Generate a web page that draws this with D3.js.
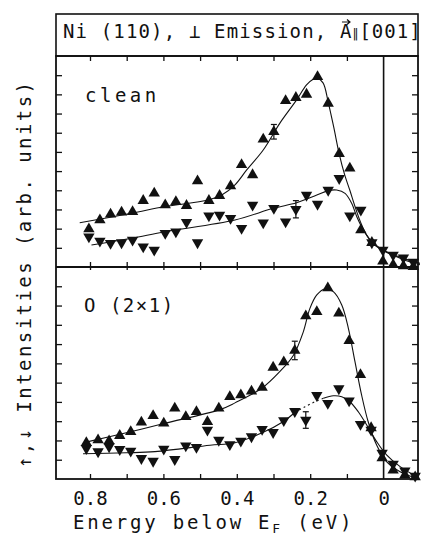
<!DOCTYPE html>
<html>
<head>
<meta charset="utf-8">
<script src="https://cdn.jsdelivr.net/npm/d3@7"></script>
<style>
  body { margin: 0; background: #fff; }
  text { font-family: "DejaVu Sans Mono", monospace; fill: #111; }
</style>
</head>
<body>
<div id="chart"></div>
<script>
// energies of the measured points (eV below E_F)
var energyTop = [0.803,0.773,0.744,0.714,0.684,0.655,0.625,0.595,0.566,0.537,0.507,0.476,0.447,0.417,0.387,0.357,0.328,0.299,0.267,0.239,0.210,0.180,0.151,0.121,0.092,0.062,0.032,0.002,-0.026,-0.054,-0.081];
var cleanUp   = [1.98,2.45,2.75,2.85,2.88,3.46,3.84,3.23,3.40,3.20,4.48,3.46,3.72,4.22,5.33,4.80,6.66,7.05,8.67,8.83,9.00,9.92,8.53,5.91,5.15,1.93,1.27,0.30,0.12,0.05,0.02];
var cleanDown = [1.58,1.36,1.24,1.27,1.41,1.06,0.89,1.76,1.84,2.33,1.27,2.67,2.71,2.54,2.02,3.23,2.31,3.06,2.36,3.01,3.75,3.28,4.01,4.62,2.67,2.97,1.27,0.89,0.63,0.48,0.26];

var energyBot = [0.810,0.778,0.748,0.719,0.689,0.660,0.628,0.599,0.569,0.539,0.510,0.480,0.449,0.419,0.389,0.360,0.331,0.301,0.272,0.242,0.212,0.182,0.152,0.122,0.094,0.063,0.034,0.004,-0.026,-0.058,-0.086];
var oxUp   = [1.88,2.02,1.97,2.25,2.45,2.94,3.28,2.89,3.67,3.23,3.49,2.97,3.67,4.27,4.36,4.55,4.75,5.79,6.07,6.67,8.46,8.68,9.91,8.60,7.17,5.41,2.65,1.09,0.45,0.21,0.10];
var oxDown = [1.59,1.42,1.68,1.54,1.45,1.07,0.93,1.56,1.02,1.73,1.65,2.54,2.02,1.79,1.97,2.20,2.58,2.42,3.04,3.51,3.06,4.34,3.93,4.69,4.06,2.84,2.54,1.35,0.78,0.43,0.16];

// error bars: [energy, value, half height]
var cleanErr = [[0.299,7.05,0.38],[0.239,3.01,0.45]];
var oxErr    = [[0.242,6.67,0.48],[0.212,3.06,0.43]];

// fitted curves [energy, intensity]
var cleanUpFit = [[0.828,2.31],[0.687,2.80],[0.596,3.15],[0.478,3.49],[0.441,3.75],[0.405,4.28],[0.373,5.06],[0.328,6.10],[0.283,7.49],[0.237,8.71],[0.210,9.49],[0.192,9.79],[0.181,9.84],[0.165,9.6],[0.151,8.6],[0.136,7.3],[0.121,5.9],[0.106,4.8],[0.092,4.0],[0.077,3.1],[0.062,2.3],[0.046,1.65],[0.028,1.2],[0.0,0.85],[-0.03,0.58],[-0.06,0.34],[-0.099,0.12]];
var cleanDownFit = [[0.796,1.15],[0.687,1.50],[0.596,1.84],[0.405,2.45],[0.301,3.06],[0.237,3.35],[0.182,3.75],[0.151,3.98],[0.128,4.01],[0.105,3.84],[0.087,3.32],[0.073,2.62],[0.055,1.93],[0.028,1.24],[-0.008,0.80],[-0.054,0.45],[-0.099,0.19]];
var oxUpFit = [[0.814,1.90],[0.701,2.40],[0.596,2.89],[0.446,3.60],[0.405,3.95],[0.331,4.72],[0.283,5.57],[0.246,6.41],[0.219,7.62],[0.201,8.84],[0.182,9.55],[0.160,9.86],[0.137,9.72],[0.114,9.03],[0.096,7.82],[0.078,6.09],[0.060,4.36],[0.042,2.97],[0.019,1.76],[-0.008,0.90],[-0.045,0.38],[-0.090,0.04]];
var oxDownFitA = [[0.819,1.31],[0.701,1.36],[0.623,1.42],[0.473,1.75],[0.405,1.88],[0.328,2.42],[0.274,2.97],[0.242,3.45]];
var oxDownFitDash = [[0.242,3.45],[0.214,3.75],[0.187,4.01],[0.164,4.19]];
var oxDownFitB = [[0.164,4.19],[0.137,4.32],[0.114,4.27],[0.092,4.01],[0.069,3.49],[0.046,2.80],[0.019,1.94],[-0.008,1.25],[-0.045,0.64],[-0.090,0.12]];

var minorTicks = [0.8,0.7,0.6,0.5,0.4,0.3,0.2,0.1];
var labelTicks = [0.8,0.6,0.4,0.2,0];
var yTicks = d3.range(1, 11);

var W = 422, H = 546;
var pLeft = 56, pRight = 418, pTop = 56, pMid = 267, pBottom = 479;

var svg = d3.select("#chart").append("svg")
    .attr("width", W)
    .attr("height", H);

svg.append("rect").attr("width", W).attr("height", H).attr("fill", "#fff");

var x = d3.scaleLinear().domain([0.8, 0]).range([90, 383.6]);
var yTop = d3.scaleLinear().domain([0, 11]).range([pMid, pTop]);
var yBot = d3.scaleLinear().domain([0, 11]).range([pBottom, pMid]);

// title box
svg.append("rect")
    .attr("x", pLeft).attr("y", 14)
    .attr("width", pRight - pLeft).attr("height", pTop - 14)
    .attr("fill", "none").attr("stroke", "#111").attr("stroke-width", 1.6);

var title = svg.append("text")
    .attr("x", 63).attr("y", 38)
    .attr("font-size", 19);
title.append("tspan").attr("letter-spacing", 1.15).text("Ni (110), \u22a5 Emission, ");
title.append("tspan").attr("id", "vecA").text("A");
title.append("tspan").attr("font-family", "DejaVu Sans").attr("font-size", 12).attr("dx", 1).text("\u2016");
title.append("tspan").attr("dx", 1).attr("letter-spacing", 1).text("[001]");

// little vector arrow above the A
var aBox = document.getElementById("vecA").getBBox();
var ax0 = aBox.x + 2, ax1 = aBox.x + aBox.width - 2, ay = 22;
svg.append("path")
    .attr("d", "M" + ax0 + "," + ay + "H" + ax1 + "M" + (ax1 - 3) + "," + (ay - 2.5) + "L" + ax1 + "," + ay + "L" + (ax1 - 3) + "," + (ay + 2.5))
    .attr("fill", "none").attr("stroke", "#111").attr("stroke-width", 1.2);

function tickAxis(axis, tr) {
  var g = svg.append("g").attr("transform", tr).call(axis);
  g.select(".domain").remove();
  g.selectAll("line").attr("stroke", "#111").attr("stroke-width", 1.3);
  g.selectAll("text").remove();
  return g;
}

// x ticks
tickAxis(d3.axisTop(x).tickValues(minorTicks).tickSize(-5), "translate(0," + pTop + ")");
tickAxis(d3.axisBottom(x).tickValues(minorTicks).tickSize(-5), "translate(0," + pMid + ")");
tickAxis(d3.axisTop(x).tickValues(minorTicks).tickSize(-3), "translate(0," + pMid + ")");
tickAxis(d3.axisBottom(x).tickValues(minorTicks).tickSize(-5), "translate(0," + pBottom + ")");

// y ticks, both panels, both sides
[yTop, yBot].forEach(function(y) {
  tickAxis(d3.axisLeft(y).tickValues(yTicks).tickSize(-6), "translate(" + pLeft + ",0)");
  tickAxis(d3.axisRight(y).tickValues(yTicks).tickSize(-6), "translate(" + pRight + ",0)");
});

// frame
svg.append("rect")
    .attr("x", pLeft).attr("y", pTop)
    .attr("width", pRight - pLeft).attr("height", pBottom - pTop)
    .attr("fill", "none").attr("stroke", "#111").attr("stroke-width", 1.8);
svg.append("line")
    .attr("x1", pLeft).attr("x2", pRight).attr("y1", pMid).attr("y2", pMid)
    .attr("stroke", "#111").attr("stroke-width", 1.8);
svg.append("line")
    .attr("x1", x(0)).attr("x2", x(0)).attr("y1", pTop).attr("y2", pBottom)
    .attr("stroke", "#111").attr("stroke-width", 1.6);

// x labels
var xl = svg.append("g")
    .attr("transform", "translate(0," + pBottom + ")")
    .call(d3.axisBottom(x).tickValues(labelTicks).tickSize(0).tickPadding(13)
      .tickFormat(function(d){ return d === 0 ? "0" : d3.format(".1f")(d); }));
xl.select(".domain").remove();
xl.selectAll("text")
    .attr("font-size", 19)
    .attr("font-family", "DejaVu Sans Mono")
    .attr("fill", "#111");

var xt = svg.append("text")
    .attr("x", 73).attr("y", 529)
    .attr("font-size", 19)
    .attr("letter-spacing", 2.8);
xt.append("tspan").text("Energy below E");
xt.append("tspan").attr("font-size", 13).attr("dy", 4).text("F");
xt.append("tspan").attr("dy", -4).text(" (eV)");

svg.append("text")
    .attr("transform", "translate(31," + 468 + ") rotate(-90)")
    .attr("font-size", 19)
    .attr("textLength", 386).attr("lengthAdjust", "spacing")
    .text("\u2191,\u2193 Intensities (arb. units)");

svg.append("text")
    .attr("x", 85).attr("y", 102)
    .attr("font-size", 19)
    .attr("letter-spacing", 3.5)
    .text("clean");
svg.append("text")
    .attr("x", 84).attr("y", 312)
    .attr("font-size", 19)
    .attr("letter-spacing", 1.5)
    .text("O (2\u00d71)");

// curves
function curve(pts, y, dash) {
  var line = d3.line()
      .x(function(d){ return x(d[0]); })
      .y(function(d){ return y(d[1]); })
      .curve(d3.curveCatmullRom.alpha(0.5));
  svg.append("path")
      .datum(pts)
      .attr("d", line)
      .attr("fill", "none")
      .attr("stroke", "#111")
      .attr("stroke-width", 1.1)
      .attr("stroke-dasharray", dash || null);
}
curve(cleanUpFit, yTop);
curve(cleanDownFit, yTop);
curve(oxUpFit, yBot);
curve(oxDownFitA, yBot);
curve(oxDownFitDash, yBot, "2,3");
curve(oxDownFitB, yBot);

// error bars
function errBars(list, y) {
  list.forEach(function(e) {
    var g = svg.append("g").attr("stroke", "#111").attr("stroke-width", 1.2);
    g.append("line").attr("x1", x(e[0])).attr("x2", x(e[0]))
      .attr("y1", y(e[1] - e[2])).attr("y2", y(e[1] + e[2]));
    [e[1] - e[2], e[1] + e[2]].forEach(function(v) {
      g.append("line").attr("x1", x(e[0]) - 3).attr("x2", x(e[0]) + 3)
        .attr("y1", y(v)).attr("y2", y(v));
    });
  });
}
errBars(cleanErr, yTop);
errBars(oxErr, yBot);

// markers
var tri = d3.symbol().type(d3.symbolTriangle).size(56);
function markers(es, vs, y, down) {
  svg.append("g").selectAll("path")
      .data(es.map(function(e, i){ return [e, vs[i]]; }))
      .enter()
      .append("path")
      .attr("d", tri)
      .attr("transform", function(d) {
        return "translate(" + x(d[0]) + "," + y(d[1]) + ")" + (down ? " rotate(180)" : "");
      })
      .attr("fill", "#111");
}
markers(energyTop, cleanUp, yTop, false);
markers(energyTop, cleanDown, yTop, true);
markers(energyBot, oxUp, yBot, false);
markers(energyBot, oxDown, yBot, true);
</script>
</body>
</html>
